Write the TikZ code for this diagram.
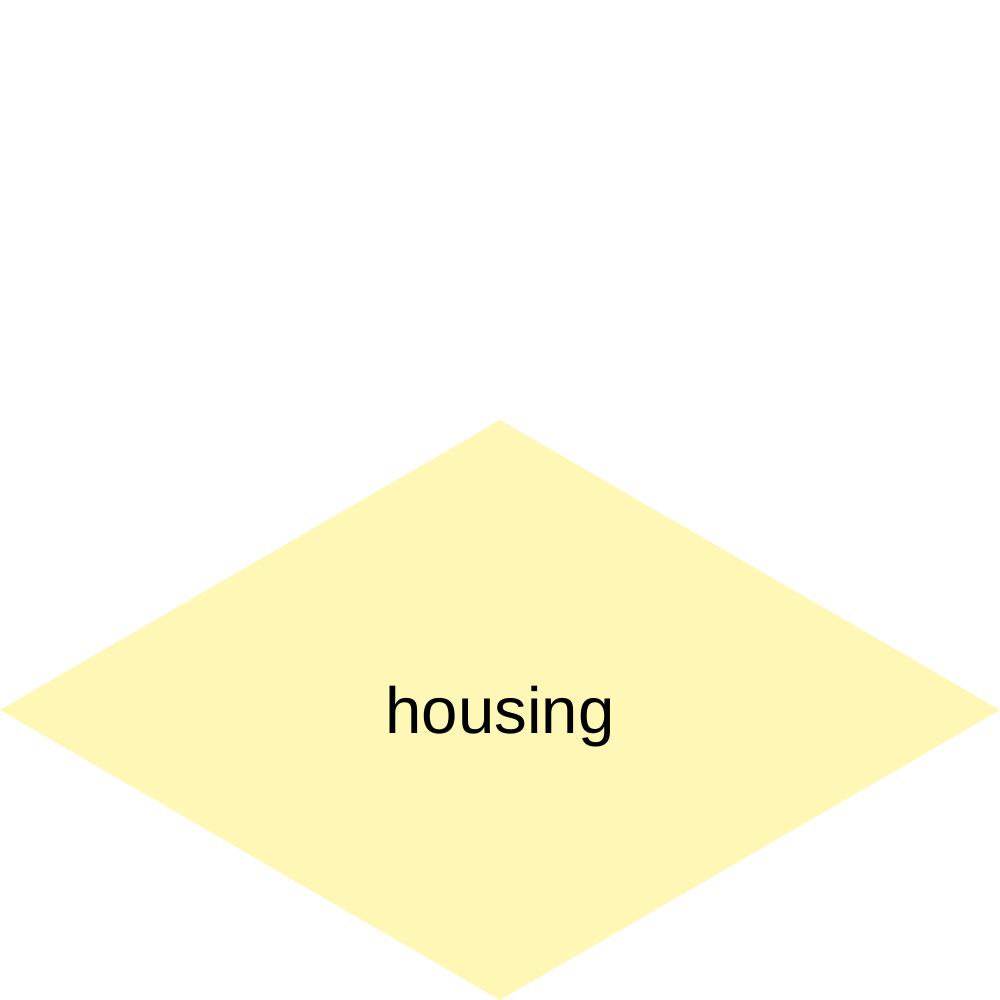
\documentclass[tikz,border=0pt]{standalone}
\usepackage{fontspec}
\setmainfont{Liberation Sans}
\usetikzlibrary{shapes.geometric}

\tikzset{every picture/.style={line width=0.75pt}}
\tikzset{decision/.style={diamond, fill={rgb, 255:red, 254; green, 247; blue, 181 }, draw opacity=0, inner sep=0, outer sep=0, text depth=0pt, minimum width=750pt, minimum height=435pt, font=\fontsize{49}{59}\selectfont}}

\begin{document}
\begin{tikzpicture}[x=0.75pt,y=0.75pt,yscale=-1,xscale=1]
	%set diagram area to 1000 x 1000
	\useasboundingbox (0,0) rectangle (1000,1000);

	%Shape: Diamond [id:housing] 
	\node [decision] (housing) at (500,710) {housing};

\end{tikzpicture}
\end{document}
